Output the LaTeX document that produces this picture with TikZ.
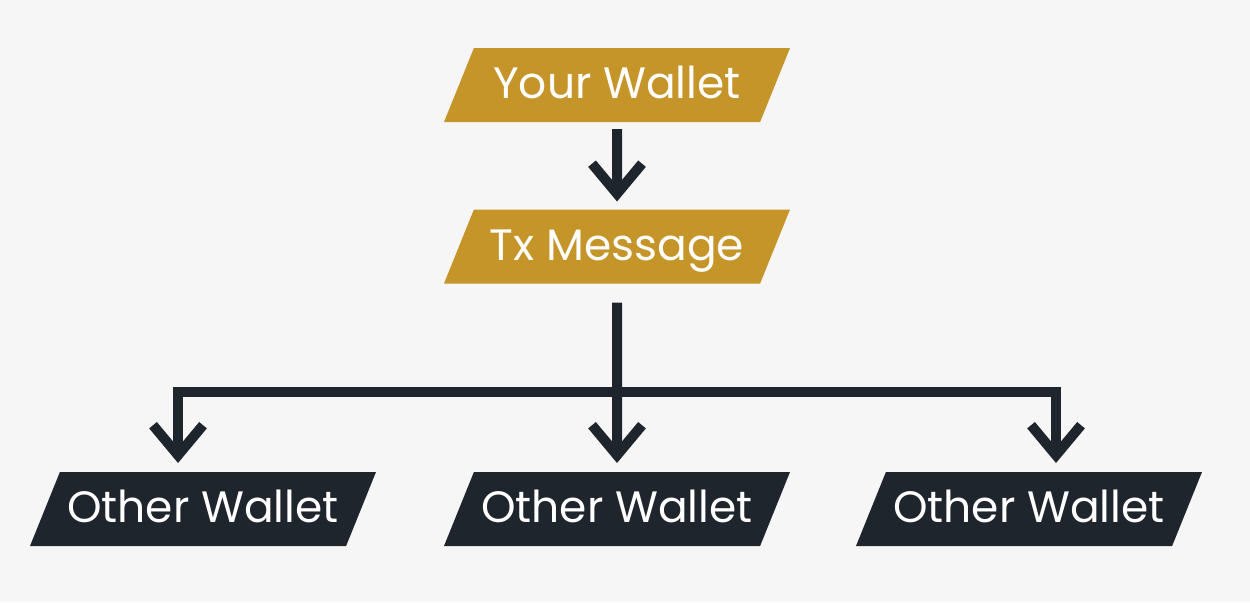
\documentclass[tikz,border=0pt]{standalone}
\usepackage{fontspec}
\setmainfont{Poppins}
\usetikzlibrary{shapes.geometric,arrows.meta}
\definecolor{walletgold}{HTML}{C5952A}
\definecolor{walletdark}{HTML}{1F252D}
\definecolor{paper}{HTML}{F6F6F6}
\tikzset{
  plate/.style={trapezium, trapezium left angle=68, trapezium right angle=112,
    trapezium stretches body, minimum width=3.46cm,
    inner sep=0pt, outer sep=0pt, text=white, text height=0.505cm, text depth=0.235cm,
    font=\fontsize{12.5}{14}\selectfont},
  mine/.style={plate, fill=walletgold},
  others/.style={plate, fill=walletdark},
  link/.style={draw=walletdark, line width=0.1cm},
  flow/.style={link, -{Straight Barb[length=0.3cm, width=0.5cm]}},
}
\begin{document}
\begin{tikzpicture}
  \fill[paper] (0,0) rectangle (12.5,6.02);
  \useasboundingbox (0,0) rectangle (12.5,6.02);

  \node[mine] (your) at (6.17,5.17) {Your Wallet};
  \node[mine] (tx) at (6.17,3.555) {Tx Message};
  \node[others] (o1) at (2.03,0.93) {Other Wallet};
  \node[others] (o2) at (6.17,0.93) {Other Wallet};
  \node[others] (o3) at (10.29,0.93) {Other Wallet};

  \coordinate (hub) at (6.17,2.10);

  \draw[flow, shorten <=0.07cm, shorten >=0.08cm] (your.south) -- (tx.north);
  \draw[flow, shorten <=0.19cm, shorten >=0.09cm] (tx.south) -- (o2.north);
  \draw[flow, shorten >=0.09cm] (hub) -| ([xshift=-0.25cm]o1.north);
  \draw[flow, shorten >=0.09cm] (hub) -| ([xshift=0.27cm]o3.north);
\end{tikzpicture}
\end{document}
